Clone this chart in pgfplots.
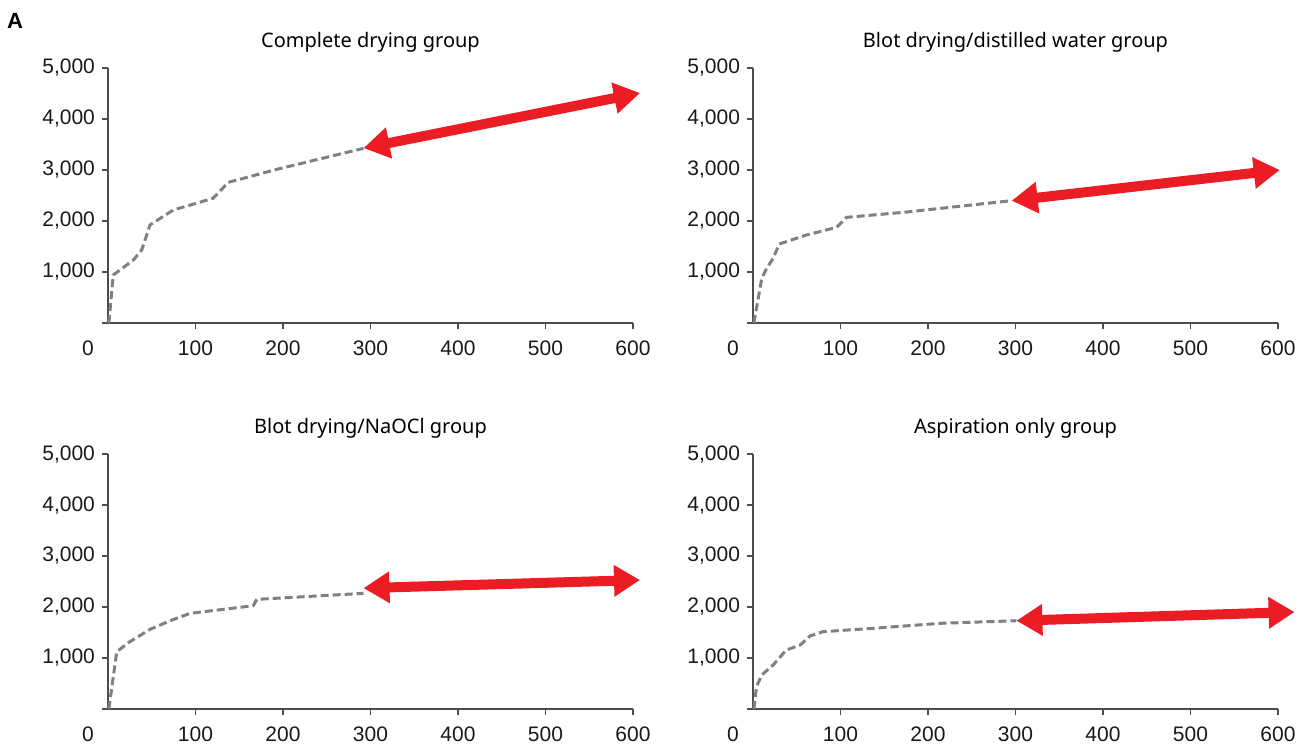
\documentclass[border=0pt]{standalone}
\usepackage{pgfplots}
\pgfplotsset{compat=1.18}
\usetikzlibrary{arrows.meta}
\usepackage{fontspec}
\setmainfont{Liberation Sans}
\newfontfamily\titlefont{Noto Sans}
\definecolor{axisgray}{HTML}{4D4D4D}
\definecolor{curvegray}{HTML}{808083}
\definecolor{arrowred}{HTML}{EC1C24}
\pgfplotsset{
  panel/.style={
    width=262.5pt, height=127.5pt, scale only axis,
    xmin=0, xmax=600, ymin=0, ymax=5000,
    axis x line*=bottom, axis y line*=left,
    axis line style={draw=axisgray, line width=0.6pt},
    tick style={draw=axisgray, line width=0.6pt},
    major tick length=3pt, tick align=outside,
    xtick={100,200,...,600},
    ytick={0,1000,...,5000},
    yticklabels={,{1,000},{2,000},{3,000},{4,000},{5,000}},
    extra x ticks={0}, extra x tick labels={0},
    extra x tick style={major tick style={draw=none}, tick label style={xshift=-10pt}},
    tick label style={font=\fontsize{10.5}{12}\selectfont, text=black!90},
    xticklabel style={yshift=-2.5pt},
    /pgf/number format/assume math mode=true,
    title style={font=\titlefont\fontsize{10}{12}\selectfont, yshift=-1.5pt},
    clip=false,
  },
  curve/.style={curvegray, line width=1.5pt, dash pattern=on 4pt off 2pt},
  redarrow/.style={arrowred, line width=5pt, {Triangle[length=13pt,width=15pt]}-{Triangle[length=13pt,width=15pt]}},
}
\begin{document}
\begin{tikzpicture}
\useasboundingbox (0,0) rectangle (653pt,373pt);
\node[font=\bfseries\fontsize{11}{13}\selectfont] at (7.5pt,362.5pt) {A};

\begin{axis}[panel, at={(54pt,211.5pt)}, anchor=south west, title={Complete drying group}]
\addplot[curve] coordinates {(1,0) (6,941) (29,1235) (38.5,1431) (48,1922) (74.6,2216) (120,2444) (137.5,2758) (193,3013) (292,3425)};
\addplot[redarrow] coordinates {(292,3430) (608,4510)};
\end{axis}

\begin{axis}[panel, at={(376.5pt,211.5pt)}, anchor=south west, title={Blot drying/distilled water group}]
\addplot[curve] coordinates {(1,0) (10,876) (15.6,1072) (23,1268) (30,1549) (61,1725) (95.6,1876) (107,2072) (175.6,2176) (295.6,2399)};
\addplot[redarrow] coordinates {(295.6,2399) (602,3000)};
\end{axis}

\begin{axis}[panel, at={(54pt,18.5pt)}, anchor=south west, title={Blot drying/NaOCl group}]
\addplot[curve] coordinates {(1,0) (10,1124) (25,1320) (48,1562) (71,1731) (94,1876) (166,2025) (170,2150) (292,2268)};
\addplot[redarrow] coordinates {(292,2370) (608,2529)};
\end{axis}

\begin{axis}[panel, at={(376.5pt,18.5pt)}, anchor=south west, title={Aspiration only group}]
\addplot[curve] coordinates {(1,0) (4,437) (10,667) (23,863) (38,1157) (54,1255) (65,1431) (80,1516) (137,1582) (214,1680) (301,1731)};
\addplot[redarrow] coordinates {(301,1731) (619,1902)};
\end{axis}
\end{tikzpicture}
\end{document}
